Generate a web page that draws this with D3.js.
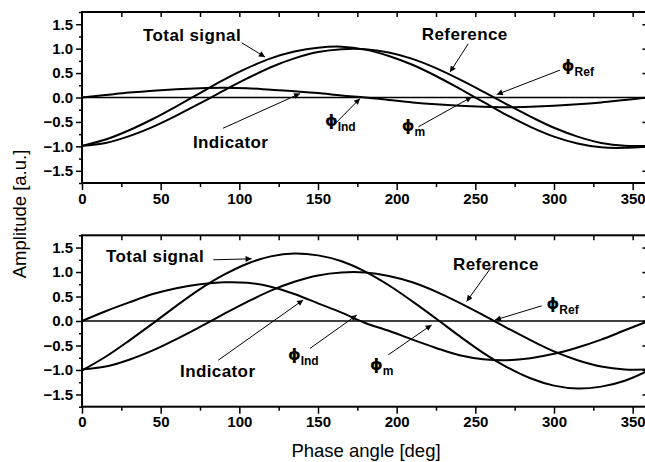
<!DOCTYPE html>
<html>
<head>
<meta charset="utf-8">
<script src="https://cdn.jsdelivr.net/npm/d3@7/dist/d3.min.js"></script>
<style>
  html, body { margin: 0; padding: 0; background: #fff; }
  svg { display: block; font-family: "Liberation Sans", Arial, sans-serif; }
  .tick-label { font-size: 15px; font-weight: bold; }
  .note { font-size: 17px; font-weight: bold; letter-spacing: 0.4px; }
</style>
</head>
<body>
<svg id="chart" width="645" height="462"></svg>
<script>
// phase angle samples [deg]
const phase = [0, 15, 30, 45, 60, 75, 90, 105, 120, 135, 150, 165, 180,
               195, 210, 225, 240, 255, 270, 285, 300, 315, 330, 345, 360];

// reference signal (same in both panels)
const reference = [-0.99, -0.93, -0.79, -0.60, -0.37, -0.12, 0.14, 0.39, 0.62, 0.80, 0.93, 0.99, 0.99,
                   0.92, 0.79, 0.60, 0.37, 0.12, -0.14, -0.39, -0.62, -0.80, -0.93, -0.99, -0.99];

// top panel: weak indicator
const indicatorTop = [0, 0.05, 0.10, 0.14, 0.17, 0.19, 0.20, 0.19, 0.16, 0.13, 0.09, 0.04, 0.00,
                      -0.05, -0.10, -0.14, -0.17, -0.19, -0.20, -0.19, -0.17, -0.14, -0.10, -0.05, 0];
const totalTop = [-0.99, -0.86, -0.67, -0.44, -0.18, 0.09, 0.36, 0.60, 0.80, 0.94, 1.02, 1.04, 0.98,
                  0.85, 0.67, 0.44, 0.18, -0.09, -0.36, -0.60, -0.80, -0.94, -1.02, -1.03, -1.00];

// bottom panel: strong indicator
const indicatorBottom = [0, 0.20, 0.38, 0.55, 0.67, 0.75, 0.79, 0.78, 0.70, 0.55, 0.36, 0.17, -0.04,
                         -0.20, -0.38, -0.55, -0.70, -0.78, -0.80, -0.76, -0.67, -0.54, -0.38, -0.19, 0];
const totalBottom = [-1.01, -0.73, -0.40, -0.05, 0.31, 0.65, 0.94, 1.17, 1.32, 1.38, 1.34, 1.22, 1.01,
                     0.73, 0.40, 0.05, -0.31, -0.65, -0.94, -1.17, -1.32, -1.38, -1.34, -1.22, -1.01];

const xTicks = [0, 50, 100, 150, 200, 250, 300, 350];
const yTicks = [-1.5, -1.0, -0.5, 0.0, 0.5, 1.0, 1.5];

// annotations in data units: text position, arrow start -> arrow end
const notesTop = [
  {text: "Total signal", x: 38.8, y: 1.16, from: [101.5, 1.12], to: [116.3, 0.83]},
  {text: "Reference", x: 216, y: 1.18, from: [245.5, 1.10], to: [233.9, 0.52]},
  {text: "Indicator", x: 70.5, y: -1.04, from: [89.6, -0.63], to: [138.6, 0.08]},
  {sym: "Ref", x: 305, y: 0.55, from: [303.8, 0.56], to: [263.6, 0.06]},
  {sym: "Ind", x: 154.4, y: -0.59, from: [161.4, -0.52], to: [176.7, -0.02]},
  {sym: "m", x: 203.2, y: -0.69, from: [213.8, -0.60], to: [247.7, 0.01]}
];
const notesBottom = [
  {text: "Total signal", x: 15.3, y: 1.21, from: [83.5, 1.25], to: [107.8, 1.27]},
  {text: "Reference", x: 235.8, y: 1.04, from: [260.4, 1.11], to: [244.5, 0.40]},
  {text: "Indicator", x: 62.3, y: -1.14, from: [86.6, -0.80], to: [140.6, 0.43]},
  {sym: "Ref", x: 295.3, y: 0.25, from: [292.2, 0.31], to: [262.5, 0.02]},
  {sym: "Ind", x: 130.9, y: -0.80, from: [144.9, -0.56], to: [174.6, 0.12]},
  {sym: "m", x: 183, y: -1.00, from: [194.7, -0.69], to: [222.2, -0.08]}
];

const svg = d3.select("#chart");

const x = d3.scaleLinear().domain([0, 360]).range([82, 648.4]);

svg.append("defs").append("marker")
  .attr("id", "arrow")
  .attr("viewBox", "0 0 10 10")
  .attr("refX", 10).attr("refY", 5)
  .attr("markerWidth", 8).attr("markerHeight", 6)
  .attr("markerUnits", "userSpaceOnUse")
  .attr("orient", "auto")
  .append("path")
  .attr("d", "M0,0 L10,5 L0,10 Z")
  .attr("fill", "#000");

function panel(top, bottom, series, notes) {
  const y = d3.scaleLinear().domain([-1.75, 1.75]).range([bottom, top]);
  const g = svg.append("g");

  // zero line
  g.append("line")
    .attr("x1", x(0)).attr("x2", x(360))
    .attr("y1", y(0)).attr("y2", y(0))
    .attr("stroke", "#000").attr("stroke-width", 1.6);

  // curves
  const line = d3.line()
    .x((d, i) => x(phase[i]))
    .y(d => y(d))
    .curve(d3.curveCatmullRom.alpha(0.5));

  series.forEach(s => {
    g.append("path")
      .attr("d", line(s))
      .attr("fill", "none")
      .attr("stroke", "#000")
      .attr("stroke-width", 2);
  });

  // axes
  g.append("g").attr("transform", `translate(0,${bottom})`)
    .call(d3.axisBottom(x).tickValues(xTicks).tickFormat(d3.format("d")).tickSize(7).tickPadding(3));
  g.append("g").attr("transform", `translate(0,${bottom})`)
    .call(d3.axisBottom(x).tickValues(d3.range(25, 360, 50)).tickFormat("").tickSize(4));

  g.append("g").attr("transform", `translate(0,${top})`)
    .call(d3.axisBottom(x).tickValues(d3.range(25, 360, 25)).tickFormat("").tickSize(5));

  g.append("g").attr("transform", `translate(${x(0)},0)`)
    .call(d3.axisLeft(y).tickValues(yTicks).tickFormat(d3.format(".1f")).tickSize(6).tickPadding(3));
  g.append("g").attr("transform", `translate(${x(0)},0)`)
    .call(d3.axisLeft(y).tickValues(d3.range(-1.75, 1.76, 0.5)).tickFormat("").tickSize(3));

  g.append("g").attr("transform", `translate(${x(360)},0)`)
    .call(d3.axisLeft(y).tickValues(yTicks).tickFormat("").tickSize(6));

  g.selectAll(".domain").remove();
  g.selectAll(".tick line").attr("stroke", "#000").attr("stroke-width", 1.5);
  g.selectAll(".tick text")
    .attr("class", "tick-label")
    .attr("fill", "#000")
    .style("font-family", "'Liberation Sans', Arial, sans-serif");

  // frame
  g.append("rect")
    .attr("x", x(0)).attr("y", top)
    .attr("width", x(360) - x(0)).attr("height", bottom - top)
    .attr("fill", "none").attr("stroke", "#000").attr("stroke-width", 2);

  // annotations
  notes.forEach(n => {
    g.append("line")
      .attr("x1", x(n.from[0])).attr("y1", y(n.from[1]))
      .attr("x2", x(n.to[0])).attr("y2", y(n.to[1]))
      .attr("stroke", "#000").attr("stroke-width", 1)
      .attr("marker-end", "url(#arrow)");
    if (n.text) {
      g.append("text").attr("class", "note")
        .attr("x", x(n.x)).attr("y", y(n.y))
        .text(n.text);
    } else {
      const t = g.append("text").attr("class", "note")
        .style("letter-spacing", "0px")
        .attr("x", x(n.x)).attr("y", y(n.y));
      t.append("tspan").style("font-family", "'DejaVu Sans', sans-serif").style("font-size", "16px").text("\u03d5");
      t.append("tspan").attr("dy", 5).style("font-size", "12px").text(n.sym);
    }
  });
}

panel(12, 183, [reference, totalTop, indicatorTop], notesTop);
panel(235.3, 406.7, [reference, totalBottom, indicatorBottom], notesBottom);

// axis titles
svg.append("text")
  .attr("x", 366).attr("y", 457)
  .attr("text-anchor", "middle")
  .style("font-size", "18.5px")
  .text("Phase angle [deg]");

svg.append("text")
  .attr("transform", "translate(26,214) rotate(-90)")
  .attr("text-anchor", "middle")
  .style("font-size", "18.5px")
  .text("Amplitude [a.u.]");
</script>
</body>
</html>
